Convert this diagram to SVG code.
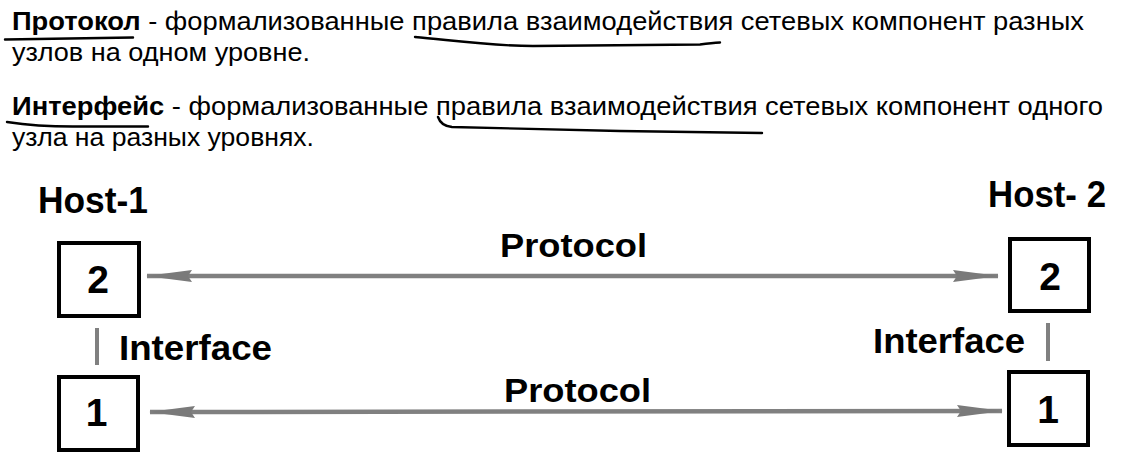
<svg xmlns="http://www.w3.org/2000/svg" width="1121" height="460" viewBox="0 0 1121 460">
<style>
.t{font-family:"Liberation Sans",Arial,sans-serif;font-size:25px;fill:#000}
.b{font-weight:bold}
.lbl{font-family:"Liberation Sans",Arial,sans-serif;font-weight:bold;fill:#000}
.ul{fill:none;stroke:#000;stroke-width:2.4;stroke-linecap:round;stroke-linejoin:round}
.box{fill:#fff;stroke:#000;stroke-width:4}
.arr{stroke:#808080;stroke-width:4.5;fill:none}
.ifc{stroke:#808080;stroke-width:4;stroke-linecap:butt}
</style>
<defs>
<marker id="ah" markerUnits="userSpaceOnUse" viewBox="0 0 46 14" markerWidth="46" markerHeight="14" refX="45" refY="7" orient="auto-start-reverse">
<path d="M0,1 L46,7 L0,13 L4,7 Z" fill="#7a7a7a"/>
</marker>
</defs>
<rect width="1121" height="460" fill="#fff"/>
<g id="definitions">
<text class="t" x="12" y="30" textLength="1072" lengthAdjust="spacingAndGlyphs"><tspan class="b">Протокол</tspan> - формализованные правила взаимодействия сетевых компонент разных</text>
<text class="t" x="12" y="61" textLength="298" lengthAdjust="spacingAndGlyphs">узлов на одном уровне.</text>
<text class="t" x="12" y="115" textLength="1091" lengthAdjust="spacingAndGlyphs"><tspan class="b">Интерфейс</tspan> - формализованные правила взаимодействия сетевых компонент одного</text>
<text class="t" x="12" y="146" textLength="302" lengthAdjust="spacingAndGlyphs">узла на разных уровнях.</text>
<path class="ul" d="M5,39.5 L133,37.5"/>
<path class="ul" d="M415,37 C450,40 490,46 533,46 L700,44.5 Q712,43 720,42.5"/>
<path class="ul" d="M7,122 Q40,127 80,126.5 L148,126.5"/>
<path class="ul" d="M438,117 Q441,126 452,127 L620,131 L762,133"/>
</g>
<g id="host1-label"><text class="lbl" x="38" y="213" font-size="36" textLength="110" lengthAdjust="spacingAndGlyphs">Host-1</text></g>
<g id="host2-label"><text class="lbl" x="988" y="207" font-size="36" textLength="118" lengthAdjust="spacingAndGlyphs">Host- 2</text></g>
<g id="h1-l2"><rect class="box" x="59" y="243" width="80" height="73"/><text class="lbl" x="98" y="293" font-size="39" text-anchor="middle">2</text></g>
<g id="h1-l1"><rect class="box" x="59" y="377" width="79" height="73"/><text class="lbl" x="96.5" y="426" font-size="39" text-anchor="middle">1</text></g>
<g id="h2-l2"><rect class="box" x="1010" y="239" width="79" height="72"/><text class="lbl" x="1050" y="290" font-size="39" text-anchor="middle">2</text></g>
<g id="h2-l1"><rect class="box" x="1009" y="372" width="79" height="73"/><text class="lbl" x="1048" y="423" font-size="39" text-anchor="middle">1</text></g>
<g id="connectors">
<line class="arr" x1="147" y1="276" x2="998" y2="276" marker-start="url(#ah)" marker-end="url(#ah)"/>
<line class="arr" x1="150" y1="412" x2="1002" y2="411" marker-start="url(#ah)" marker-end="url(#ah)"/>
<line class="ifc" x1="97" y1="328" x2="97" y2="365"/>
<line class="ifc" x1="1048" y1="323" x2="1048" y2="361"/>
</g>
<g id="labels">
<text class="lbl" x="500" y="256.5" font-size="33" textLength="147" lengthAdjust="spacingAndGlyphs">Protocol</text>
<text class="lbl" x="504" y="401.5" font-size="33" textLength="147" lengthAdjust="spacingAndGlyphs">Protocol</text>
<text class="lbl" x="119" y="360" font-size="35" textLength="153" lengthAdjust="spacingAndGlyphs">Interface</text>
<text class="lbl" x="873" y="353" font-size="35" textLength="152" lengthAdjust="spacingAndGlyphs">Interface</text>
</g>
</svg>
